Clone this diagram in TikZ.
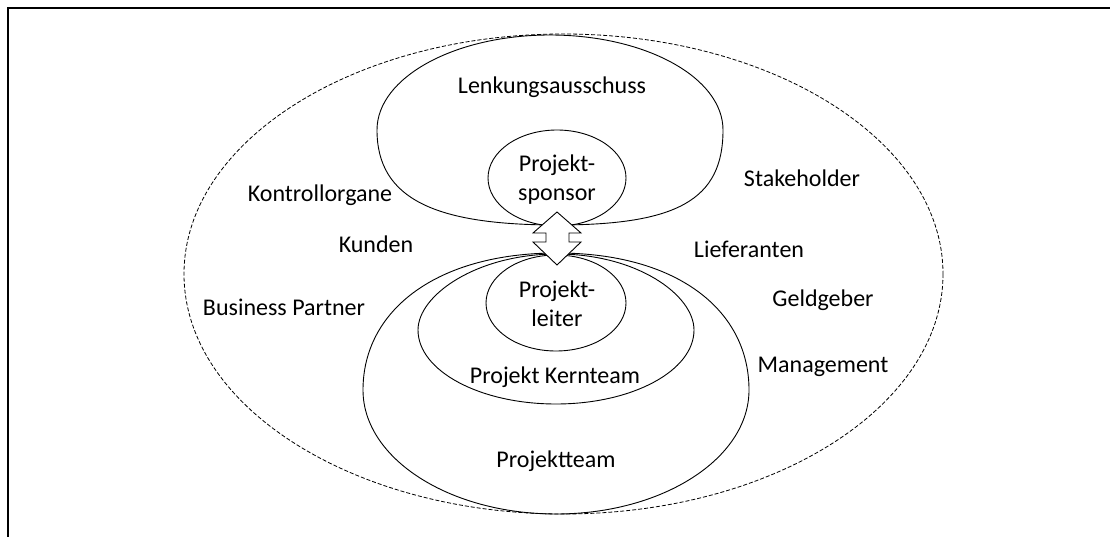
\documentclass[tikz,border=0pt]{standalone}
\usepackage{fontspec}
\setmainfont{Carlito}
\begin{document}
\begin{tikzpicture}[x=1pt,y=-1pt,
  lbl/.style={anchor=base, inner sep=0pt, align=center,
              font=\fontsize{24}{28.5}\selectfont},
  frameline/.style={line width=2.2pt},
  ring/.style={draw=black, line width=0.9pt},
  outerring/.style={draw=black, line width=0.8pt, dash pattern=on 4pt off 2pt},
  arrowshape/.style={draw=black, fill=white, line width=0.9pt, line join=miter}]
\useasboundingbox (0,0) rectangle (1110,537);

% page frame (top and left edge)
\draw[frameline] (7.7,537) -- (7.7,7.7) -- (1110,7.7);

% stakeholder environment
\draw[outerring] (563.5,274) ellipse[x radius=379.5, y radius=240];

% steering committee (drop shape pointing down)
\draw[ring] (557,225) .. controls (437,225) and (377,200) .. (377,130)
  .. controls (377,77.5) and (454.5,35) .. (550,35)
  .. controls (645.5,35) and (723,77.5) .. (723,130)
  .. controls (723,200) and (677,225) .. (557,225) -- cycle;

% project team (drop shape pointing up)
\draw[ring] (557,253) .. controls (437,253) and (363,310) .. (363,390)
  .. controls (363,458.5) and (449.4,514) .. (556,514)
  .. controls (662.6,514) and (749,458.5) .. (749,390)
  .. controls (749,310) and (677,253) .. (557,253) -- cycle;

% core team
\draw[ring] (557,254) .. controls (477,254) and (418,295) .. (418,330)
  .. controls (418,370.9) and (479.8,404) .. (556,404)
  .. controls (632.2,404) and (694,370.9) .. (694,330)
  .. controls (694,295) and (637,254) .. (557,254) -- cycle;

% sponsor and project manager
\draw[ring] (557,178) ellipse[x radius=69, y radius=48];
\draw[ring] (556,303) ellipse[x radius=70, y radius=48];

% double arrow between sponsor and project manager
\draw[arrowshape] (557,212) -- (581,233) -- (569,233) -- (569,242) -- (581,242)
  -- (557,265) -- (533,242) -- (546,242) -- (546,233) -- (533,233) -- cycle;

% labels (base anchor: baseline of the last line)
\node[lbl] (lenk)  at (552,94)    {Lenkungsausschuss};
\node[lbl] (spons) at (557,200.5) {Projekt-\\sponsor};
\node[lbl] (pl)    at (557,326)   {Projekt-\\leiter};
\node[lbl] (kern)  at (555,383)   {Projekt Kernteam};
\node[lbl] (team)  at (556,467)   {Projektteam};
\node[lbl] (stake) at (802,187)   {Stakeholder};
\node[lbl] (kontr) at (320,202)   {Kontrollorgane};
\node[lbl] (kund)  at (376,253)   {Kunden};
\node[lbl] (lief)  at (749,258)   {Lieferanten};
\node[lbl] (geld)  at (823,306)   {Geldgeber};
\node[lbl] (bp)    at (284,315)   {Business Partner};
\node[lbl] (mgmt)  at (823,372)   {Management};
\end{tikzpicture}
\end{document}
